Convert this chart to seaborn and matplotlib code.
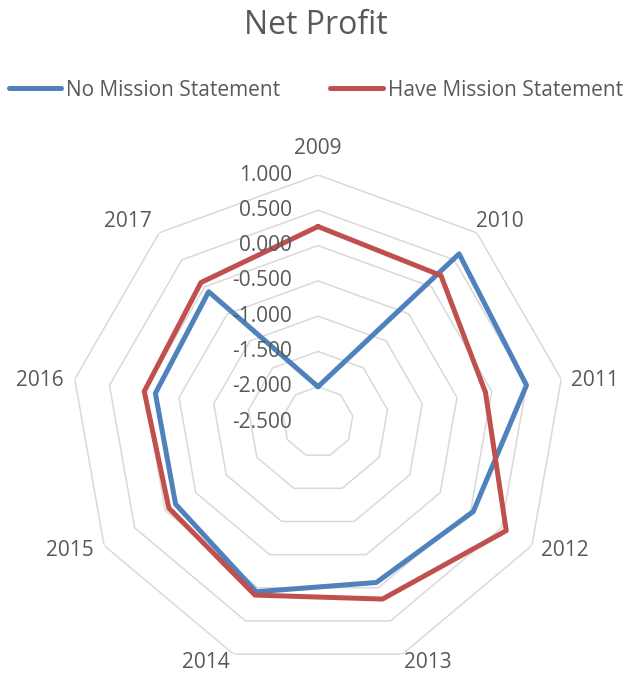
import numpy as np
import pandas as pd
import matplotlib
import matplotlib.pyplot as plt
import matplotlib.transforms as mtransforms
import seaborn as sns

matplotlib.use('Agg')

# ==========================================================
# DATA
# ==========================================================
years = ["2009", "2010", "2011", "2012", "2013", "2014", "2015", "2016", "2017"]
no_mission = [-2.00, 0.61, 0.50, 0.04, -0.08, 0.06, -0.17, -0.16, -0.09]
have_mission = [0.27, 0.21, -0.09, 0.58, 0.17, 0.11, -0.06, 0.00, 0.08]
ring_values = [-2.5, -2.0, -1.5, -1.0, -0.5, 0.0, 0.5, 1.0]
series_names = ["No Mission Statement", "Have Mission Statement"]

# ==========================================================
# CONFIGURATION
# ==========================================================
sns.set_theme(style="white")
plt.rcParams['font.family'] = ['Open Sans', 'DejaVu Sans']
TEXT = "#595959"
GRID = "#d9d9d9"
COLORS = ["#4f81bd", "#c0504d"]
# pixel offset (right, down) of each category label from its outer vertex
LABEL_OFFSET = [(0, -27), (23, -11), (34, 1), (33, 5), (25, 8),
                (-28, 8), (-34, 5), (-35, 1), (-31, -11)]

W, H = 632, 673
fig = plt.figure(figsize=(W / 100, H / 100), dpi=100)
cx, cy, R = 318, 422, 247
ax = fig.add_axes([(cx - R) / W, (H - cy - R) / H, 2 * R / W, 2 * R / H], projection='polar')
ax.set_theta_zero_location('N')
ax.set_theta_direction(-1)
ax.set_ylim(ring_values[0], ring_values[-1])

angles = np.linspace(0, 2 * np.pi, len(years), endpoint=False)
closed = np.append(angles, 2 * np.pi)

# polygon gridlines
for v in ring_values[1:]:
    ax.plot(closed, [v] * len(closed), color=GRID, lw=1.1, zorder=0)

# series
rows = []
for name, vals in zip(series_names, [no_mission, have_mission]):
    vals = list(vals) + [vals[0]]
    for a, v in zip(closed, vals):
        rows.append({"angle": a, "value": v, "series": name})
df = pd.DataFrame(rows)

sns.lineplot(data=df, x="angle", y="value", hue="series", palette=COLORS,
             sort=False, lw=3.6, ax=ax, legend=False, zorder=3)
ax.set_xlabel("")
ax.set_ylabel("")

ax.grid(False)
ax.spines['polar'].set_visible(False)
ax.set_yticks([])
ax.set_xticks([])
ax.set_facecolor('none')

# category labels outside the outer ring
for a, lab, (dx, dy) in zip(angles, years, LABEL_OFFSET):
    tr = mtransforms.offset_copy(ax.transData, fig=fig, x=dx, y=-dy, units='dots')
    ax.text(a, ring_values[-1], lab, transform=tr, ha='center', va='center',
            fontsize=15, color=TEXT, clip_on=False)

# value labels along the vertical axis
off = mtransforms.offset_copy(ax.transData, fig=fig, x=-26, y=0, units='dots')
for v in ring_values:
    ax.text(0, v, f"{v:.3f}", transform=off, ha='right', va='center',
            fontsize=15, color=TEXT, zorder=4)

fig.text(0.5, 1 - 26 / H, "Net Profit", ha='center', va='center', fontsize=23, color=TEXT)

handles = [plt.Line2D([], [], color=c, lw=3.6) for c in COLORS]
fig.legend(handles, series_names, loc='center', bbox_to_anchor=(0.5, 1 - 90 / H), ncol=2,
           frameon=False, fontsize=15, handlelength=2.5, handletextpad=0.25,
           columnspacing=2.4, labelcolor=TEXT)

fig.savefig("out.png", dpi=100, facecolor='white')
